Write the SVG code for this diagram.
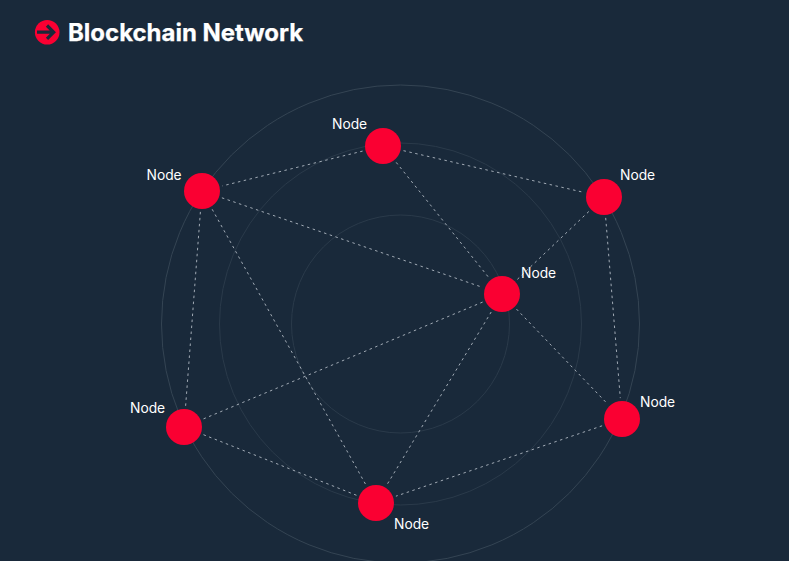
<svg xmlns="http://www.w3.org/2000/svg" width="789" height="561" viewBox="0 0 789 561">
<style>
.ring{fill:none;stroke:#344453;stroke-width:1}
.ring.faint{stroke:#2a3a4a}
.link{stroke:#c4ccd4;stroke-width:.8;stroke-dasharray:2.500 3.500;fill:none}
.dot{fill:#fa0032}
.lbl{font-family:Inter,"Liberation Sans",sans-serif;font-size:13.800px;fill:#fff}
</style>
<rect width="789" height="561" fill="#19293a"/>
<g id="title">
<circle cx="47.200" cy="32.200" r="12.300" class="dot"/>
<path d="M37 32.200H53.500M47 25.500L53.700 32.200L47 38.900" fill="none" stroke="#19293a" stroke-width="3.200"/>
<text x="68" y="41" font-family="Inter,'Liberation Sans',sans-serif" font-size="24" font-weight="700" letter-spacing="-.02" fill="#fff" stroke="#fff" stroke-width=".25">Blockchain Network</text>
</g>
<g id="rings">
<circle class="ring" cx="400.500" cy="324" r="239"/>
<circle class="ring faint" cx="400.500" cy="324" r="181"/>
<circle class="ring faint" cx="400.500" cy="324" r="109"/>
</g>
<g id="connectors">
<line class="link" x1="362.600" y1="151.100" x2="222.400" y2="185.900"/>
<line class="link" x1="403.500" y1="150.700" x2="583.500" y2="192.300"/>
<line class="link" x1="396.200" y1="162.400" x2="488.800" y2="277.600"/>
<line class="link" x1="221.900" y1="197.800" x2="482.100" y2="287.200"/>
<line class="link" x1="200.400" y1="211.900" x2="185.600" y2="406.100"/>
<line class="link" x1="212.200" y1="209.300" x2="365.800" y2="484.700"/>
<line class="link" x1="588.800" y1="211.500" x2="517.200" y2="279.500"/>
<line class="link" x1="605.700" y1="217.900" x2="620.300" y2="398.100"/>
<line class="link" x1="482.600" y1="302.100" x2="203.400" y2="418.900"/>
<line class="link" x1="491.200" y1="312" x2="386.800" y2="485"/>
<line class="link" x1="516.500" y1="309.100" x2="607.500" y2="403.900"/>
<line class="link" x1="203.500" y1="434.700" x2="356.500" y2="495.300"/>
<line class="link" x1="602.100" y1="425.800" x2="395.900" y2="496.200"/>
</g>
<g id="node-top"><circle class="dot" cx="383" cy="146" r="18"/><text class="lbl" x="332" y="128.500">Node</text></g>
<g id="node-left"><circle class="dot" cx="202" cy="191" r="18"/><text class="lbl" x="146.500" y="179.500">Node</text></g>
<g id="node-right"><circle class="dot" cx="604" cy="197" r="18"/><text class="lbl" x="620" y="179.500">Node</text></g>
<g id="node-center"><circle class="dot" cx="502" cy="294" r="18"/><text class="lbl" x="521" y="278">Node</text></g>
<g id="node-lower-left"><circle class="dot" cx="184" cy="427" r="18"/><text class="lbl" x="130" y="413">Node</text></g>
<g id="node-lower-right"><circle class="dot" cx="622" cy="419" r="18"/><text class="lbl" x="640" y="407">Node</text></g>
<g id="node-bottom"><circle class="dot" cx="376" cy="503" r="18"/><text class="lbl" x="394" y="529">Node</text></g>
</svg>
